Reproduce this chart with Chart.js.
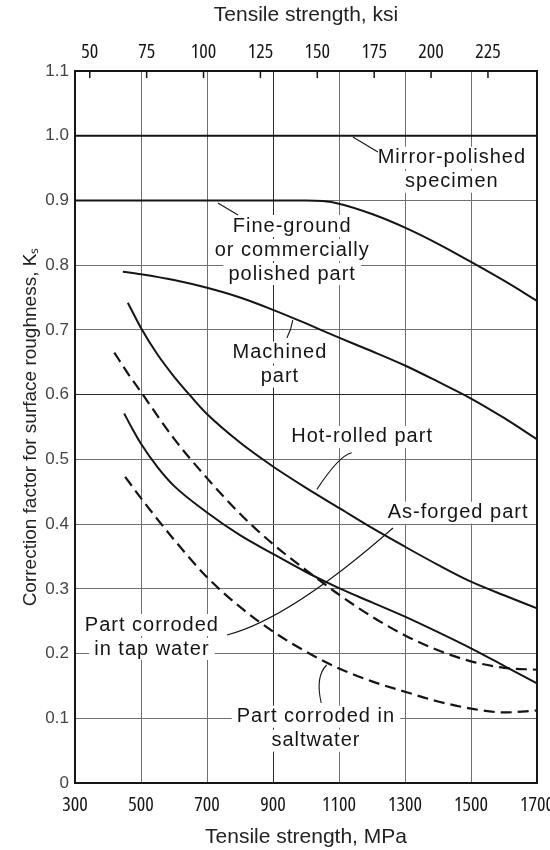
<!DOCTYPE html>
<html><head><meta charset="utf-8">
<script src="https://cdn.jsdelivr.net/npm/chart.js@4.4.1/dist/chart.umd.min.js"></script>
<style>html,body{margin:0;padding:0;background:#fff}canvas{display:block}</style>
</head><body>
<canvas id="c" width="550" height="850"></canvas>
<script>
// ---- axis ticks ----
const mpaTicks = [300, 500, 700, 900, 1100, 1300, 1500, 1700];
const ksiTicks = [50, 75, 100, 125, 150, 175, 200, 225];
const ksTicks = [0, 0.1, 0.2, 0.3, 0.4, 0.5, 0.6, 0.7, 0.8, 0.9, 1.0, 1.1];
const MPA_PER_KSI = 6.895;

// ---- series (tensile strength MPa -> Ks) ----
const mirrorX = [300, 1700];
const mirrorY = [1.0, 1.0];
const fineX = [300, 1000, 1050, 1100, 1200, 1300, 1400, 1500, 1600, 1700];
const fineY = [0.9, 0.9, 0.899, 0.895, 0.879, 0.858, 0.833, 0.805, 0.776, 0.745];
const machinedX = [445, 500, 600, 700, 800, 900, 1000, 1100, 1200, 1300, 1400, 1500, 1600, 1700];
const machinedY = [0.790, 0.786, 0.777, 0.765, 0.750, 0.731, 0.710, 0.688, 0.667, 0.645, 0.620, 0.594, 0.564, 0.531];
const hotX = [460, 500, 550, 600, 650, 700, 800, 900, 1000, 1100, 1200, 1300, 1400, 1500, 1600, 1700];
const hotY = [0.742, 0.703, 0.662, 0.628, 0.598, 0.570, 0.526, 0.489, 0.456, 0.425, 0.394, 0.365, 0.337, 0.311, 0.290, 0.270];
const forgedX = [449, 475, 500, 550, 600, 700, 800, 900, 1000, 1100, 1200, 1300, 1400, 1500, 1600, 1700];
const forgedY = [0.571, 0.546, 0.524, 0.488, 0.459, 0.418, 0.383, 0.354, 0.326, 0.301, 0.279, 0.257, 0.233, 0.208, 0.181, 0.154];
const tapX = [419, 460, 500, 600, 700, 800, 900, 1000, 1100, 1200, 1300, 1400, 1500, 1600, 1700];
const tapY = [0.665, 0.633, 0.604, 0.532, 0.471, 0.416, 0.369, 0.329, 0.291, 0.257, 0.228, 0.205, 0.188, 0.178, 0.175];
const saltX = [452, 500, 600, 700, 800, 900, 1000, 1100, 1200, 1300, 1400, 1500, 1600, 1700];
const saltY = [0.473, 0.440, 0.376, 0.318, 0.272, 0.234, 0.203, 0.177, 0.157, 0.141, 0.126, 0.115, 0.109, 0.112];

// ---- annotation texts (anchored in data coordinates) ----
const labelTexts = {
  mirror: ['Mirror-polished', 'specimen'],
  fine: ['Fine-ground', 'or commercially', 'polished part'],
  machined: ['Machined', 'part'],
  hot: ['Hot-rolled part'],
  forged: ['As-forged part'],
  tap: ['Part corroded', 'in tap water'],
  salt: ['Part corroded in', 'saltwater']
};

const SANS = "'Liberation Sans', Arial, Helvetica, sans-serif";
const TICKFAM = "'Open Sans', 'Liberation Sans', sans-serif";
const INK = '#151515';

const labelPlace = [
  { key: 'mirror', x: 1442, y: 0.966 },
  { key: 'fine', x: 958, y: 0.8605 },
  { key: 'machined', x: 921, y: 0.665 },
  { key: 'hot', x: 1170, y: 0.5346 },
  { key: 'forged', x: 1461, y: 0.4176 },
  { key: 'tap', x: 533, y: 0.2441 },
  { key: 'salt', x: 1030, y: 0.1024 }
];
const leaders = [
  { from: [1142, 0.998], to: [1218, 0.975] },
  { from: [733, 0.896], to: [794, 0.8775] },
  { from: [960, 0.715], ctrl: [955, 0.70], to: [942, 0.6875] },
  { from: [1138.5, 0.5103], ctrl: [1100, 0.5058], to: [1033, 0.4537] },
  { from: [1263.6, 0.394], ctrl: [951.5, 0.2541], to: [760.6, 0.2287] },
  { from: [1062.6, 0.1823], ctrl: [1027.7, 0.165], to: [1046, 0.1236] }
];
const LABEL_FONT = "20px " + SANS;
const LINE_H = 24;

function series(label, xs, ys, dashed) {
  return {
    label: label,
    data: xs.map((x, i) => ({ x: x, y: ys[i] })),
    borderColor: INK, borderWidth: dashed ? 2.2 : 2, borderDash: dashed ? [11, 6] : [],
    pointRadius: 0, fill: false, cubicInterpolationMode: 'monotone', tension: 0.4
  };
}

const annot = {
  id: 'annot',
  beforeDatasetsDraw(chart) {
    const { ctx, scales: { x, y } } = chart;
    ctx.save();
    ctx.font = LABEL_FONT;
    ctx.letterSpacing = '1px';
    ctx.fillStyle = '#fff';
    for (const L of labelPlace) {
      const cx = x.getPixelForValue(L.x), cy = y.getPixelForValue(L.y);
      labelTexts[L.key].forEach((t, i) => {
        const w = ctx.measureText(t).width;
        ctx.fillRect(cx - w / 2 - 5, cy + i * LINE_H - 11, w + 10, 22);
      });
    }
    ctx.restore();
  },
  afterDatasetsDraw(chart) {
    const { ctx, chartArea: a, scales: { x, y, x2 } } = chart;
    ctx.save();
    ctx.strokeStyle = INK; ctx.lineWidth = 1.1; ctx.setLineDash([]);
    for (const l of leaders) {
      ctx.beginPath();
      ctx.moveTo(x.getPixelForValue(l.from[0]), y.getPixelForValue(l.from[1]));
      if (l.ctrl) ctx.quadraticCurveTo(x.getPixelForValue(l.ctrl[0]), y.getPixelForValue(l.ctrl[1]),
        x.getPixelForValue(l.to[0]), y.getPixelForValue(l.to[1]));
      else ctx.lineTo(x.getPixelForValue(l.to[0]), y.getPixelForValue(l.to[1]));
      ctx.stroke();
    }
    ctx.font = LABEL_FONT; ctx.letterSpacing = '1px';
    ctx.fillStyle = INK; ctx.textAlign = 'center'; ctx.textBaseline = 'middle';
    for (const L of labelPlace) {
      const cx = x.getPixelForValue(L.x), cy = y.getPixelForValue(L.y);
      labelTexts[L.key].forEach((t, i) => ctx.fillText(t, cx, cy + i * LINE_H));
    }
    ctx.letterSpacing = '0px';
    ctx.strokeStyle = INK; ctx.lineWidth = 2;
    ctx.strokeRect(a.left, a.top, a.right - a.left, a.bottom - a.top);
    ctx.lineWidth = 1.5;
    for (const v of ksiTicks) {
      const px = x2.getPixelForValue(v);
      ctx.beginPath(); ctx.moveTo(px, a.top); ctx.lineTo(px, a.top + 7); ctx.stroke();
    }
    ctx.restore();
  }
};

const tickFont = { family: TICKFAM, size: 20, weight: '500 condensed' };

new Chart(document.getElementById('c'), {
  type: 'line',
  data: {
    datasets: [
      series('Mirror-polished specimen', mirrorX, mirrorY, false),
      series('Fine-ground or commercially polished part', fineX, fineY, false),
      series('Machined part', machinedX, machinedY, false),
      series('Hot-rolled part', hotX, hotY, false),
      series('As-forged part', forgedX, forgedY, false),
      series('Part corroded in tap water', tapX, tapY, true),
      series('Part corroded in saltwater', saltX, saltY, true)
    ]
  },
  options: {
    responsive: false, animation: false, devicePixelRatio: 1,
    layout: { padding: { left: 0, right: 13, top: 0, bottom: 0 } },
    plugins: { legend: { display: false }, tooltip: { enabled: false } },
    scales: {
      x: {
        type: 'linear', position: 'bottom', min: 300, max: 1700,
        afterBuildTicks: s => { s.ticks = mpaTicks.map(v => ({ value: v })); },
        afterFit: s => { s.height = 67; s.paddingLeft = 0; s.paddingRight = 0; },
        grid: { color: c => (c.tick && c.tick.value === 900) ? '#2a2a2a' : '#707070', lineWidth: 1, drawTicks: false },
        border: { display: false },
        ticks: { callback: v => String(v), font: tickFont, color: INK, padding: 10, maxRotation: 0, autoSkip: false },
        title: { display: true, text: 'Tensile strength, MPa', font: { family: SANS, size: 21 }, color: '#222', padding: { top: 0, bottom: 0 } }
      },
      x2: {
        type: 'linear', position: 'top', min: 300 / MPA_PER_KSI, max: 1700 / MPA_PER_KSI,
        afterBuildTicks: s => { s.ticks = ksiTicks.map(v => ({ value: v })); },
        afterFit: s => { s.height = 71; s.paddingLeft = 0; s.paddingRight = 0; },
        grid: { display: false, drawTicks: false },
        border: { display: false },
        ticks: { callback: v => String(v), font: tickFont, color: INK, padding: 7, maxRotation: 0, autoSkip: false },
        title: { display: true, text: 'Tensile strength, ksi', font: { family: SANS, size: 21 }, color: '#222', padding: { top: 3, bottom: 0 } }
      },
      y: {
        type: 'linear', min: 0, max: 1.1,
        afterBuildTicks: s => { s.ticks = ksTicks.map(v => ({ value: v })); },
        afterFit: s => { s.width = 75; },
        grid: { color: c => (c.tick && Math.abs(c.tick.value - 0.6) < 1e-6) ? '#2a2a2a' : '#707070', lineWidth: 1, drawTicks: false },
        border: { display: false },
        ticks: { callback: v => v === 0 ? '0' : Number(v).toFixed(1), font: { family: SANS, size: 17 }, color: '#444', padding: 6 },
        title: { display: true, text: 'Correction factor for surface roughness, Kₛ', font: { family: SANS, size: 19 }, color: '#222', padding: { top: 19, bottom: 0 } }
      }
    }
  },
  plugins: [annot]
});
</script>
</body></html>
